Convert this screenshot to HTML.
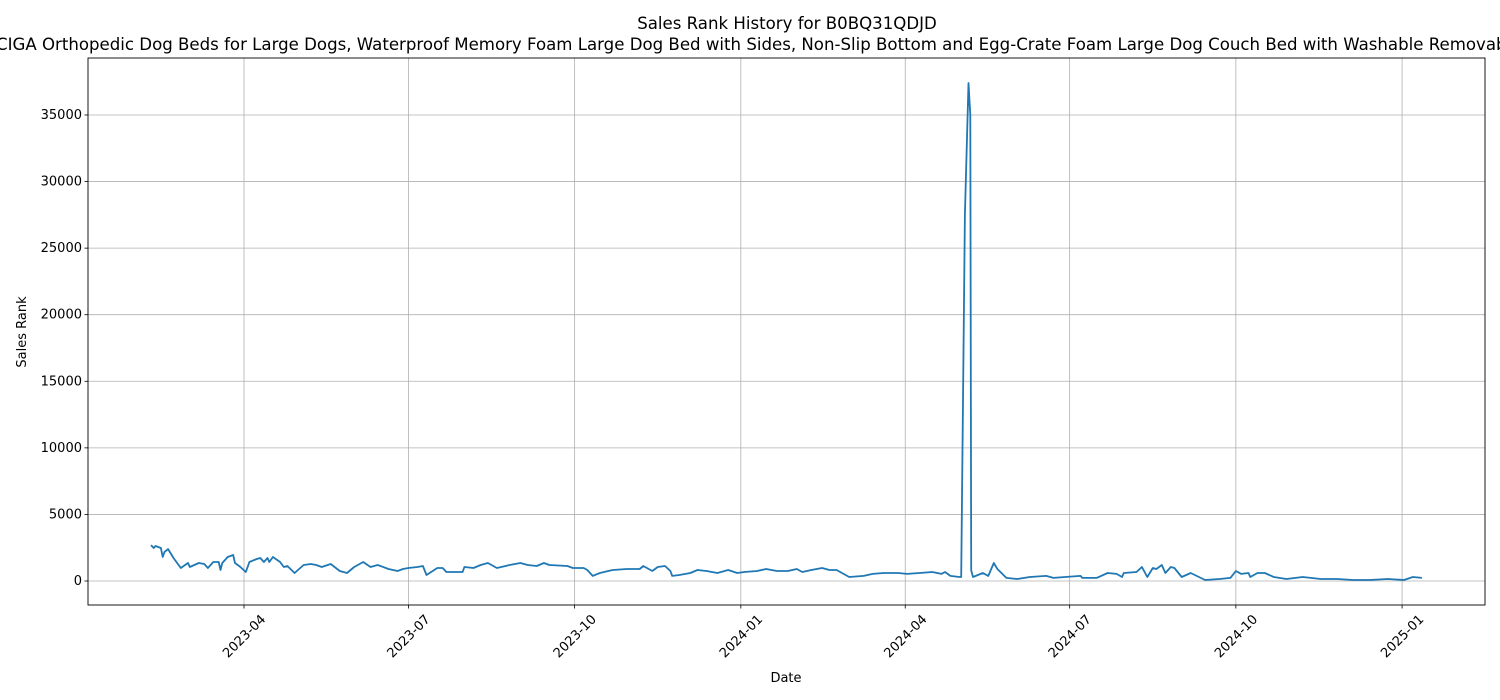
<!DOCTYPE html>
<html><head><meta charset="utf-8"><style>
body{margin:0;background:#fff;}
svg{display:block;font-family:"DejaVu Sans","Liberation Sans",sans-serif;}
</style></head><body>
<svg id="chart" width="1500" height="700">
<text x="787" y="29" text-anchor="middle" font-size="16.6">Sales Rank History for B0BQ31QDJD</text>
<text x="-4" y="50" font-size="16.6">CIGA Orthopedic Dog Beds for Large Dogs, Waterproof Memory Foam Large Dog Bed with Sides, Non-Slip Bottom and Egg-Crate Foam Large Dog Couch Bed with Washable Removable Cover</text>
<g id="grid"></g>
<g id="ticks"></g>
<path id="line" fill="none" stroke="#1f77b4" stroke-width="1.8" stroke-linejoin="round"></path>
<rect x="88" y="58" width="1397" height="547" fill="none" stroke="#000" stroke-width="0.9"></rect>
<text x="786" y="682" text-anchor="middle" font-size="13">Date</text>
<text transform="translate(26,332) rotate(-90)" text-anchor="middle" font-size="13">Sales Rank</text>
</svg>
<script>
// days since 2023-04-01
const days=[-51.5,-50,-49,-46,-45,-44,-42,-39,-35,-31,-30,-25,-22,-20,-17,-14,-13,-12,-9,-6,-5,-2,1,3,7,9,11,13,14,16,20,22,24,28,33,37,40,43,48,53,57,61,66,70,74,80,85,88,91,96,99,101,107,110,112,121,122,127,131,135,140,147,153,157,162,166,169,179,182,188,190,193,197,204,212,219,221,226,229,233,236,237,241,247,251,256,262,268,273,277,284,289,295,301,306,309,314,320,324,328,335,343,348,354,362,367,374,381,386,388,391,396,397,399,401,402,402.5,403.5,409,412,415,417,422,428,435,444,448,463,464,472,478,483,486,487,494,497,500,503,505,508,510,513,515,519,524,532,540,546,549,552,556,557,561,565,570,577,586,596,605,614,623,633,642,647,652];
const ranks=[2700,2480,2630,2480,1800,2180,2400,1730,980,1350,1050,1350,1280,980,1430,1430,830,1350,1800,1950,1350,1050,680,1430,1650,1730,1430,1730,1430,1800,1430,1050,1130,600,1200,1280,1200,1050,1280,750,600,1050,1430,1050,1200,900,750,900,980,1050,1130,450,980,980,680,680,1050,980,1200,1350,980,1200,1350,1200,1130,1350,1200,1130,980,980,830,380,600,830,900,900,1130,750,1050,1130,750,380,450,600,830,750,600,830,600,680,750,900,750,750,900,680,830,980,830,830,300,380,530,600,600,530,600,680,530,680,380,300,300,27500,37400,35000,800,300,600,380,1350,900,230,150,300,380,230,380,230,230,600,530,300,600,680,1050,300,980,900,1200,600,1050,980,300,600,75,150,230,750,530,600,300,600,600,300,150,300,150,150,75,75,150,75,300,230];
const yTicks=[0,5000,10000,15000,20000,25000,30000,35000];
const xTickDays=[0,91,183,275,366,457,549,641];
const xTickLabels=["2023-04","2023-07","2023-10","2024-01","2024-04","2024-07","2024-10","2025-01"];
const NS="http://www.w3.org/2000/svg";
const L=88,R=1485,T=58,B=605;
const dMin=-86.35,dMax=686.9,vMin=-1802,vMax=39280;
const xs=d=>L+(d-dMin)/(dMax-dMin)*(R-L);
const ys=v=>B-(v-vMin)/(vMax-vMin)*(B-T);
const grid=document.getElementById('grid'),tk=document.getElementById('ticks');
function mk(tag,at,parent){const e=document.createElementNS(NS,tag);for(const k in at)e.setAttribute(k,at[k]);parent.appendChild(e);return e;}
yTicks.forEach(v=>{
  const y=ys(v);
  const g=mk('line',{x1:L,x2:R,y1:y,y2:y,stroke:'#b0b0b0','stroke-width':0.8},grid);
  
  
  mk('line',{x1:L-3.5,x2:L,y1:y,y2:y,stroke:'#000','stroke-width':0.8},tk);
  const t=mk('text',{x:L-6,y:y+4,'text-anchor':'end','font-size':13},tk);
  t.textContent=v;
  
  
});
xTickDays.forEach((d,i)=>{
  const x=xs(d);
  const g=mk('line',{x1:x,x2:x,y1:T,y2:B,stroke:'#b0b0b0','stroke-width':0.8},grid);
  
  
  mk('line',{x1:x,x2:x,y1:B,y2:B+3.5,stroke:'#000','stroke-width':0.8},tk);
  const cy=B+31;
  const t=mk('text',{x:x,y:cy+4.5,'text-anchor':'middle','font-size':13,transform:`rotate(-45 ${x} ${cy})`},tk);
  t.textContent=xTickLabels[i];
  
  
});
document.getElementById('line').setAttribute('d',days.map((d,i)=>(i?'L':'M')+xs(d).toFixed(1)+','+ys(ranks[i]).toFixed(1)).join(''));
</script>
</body></html>
